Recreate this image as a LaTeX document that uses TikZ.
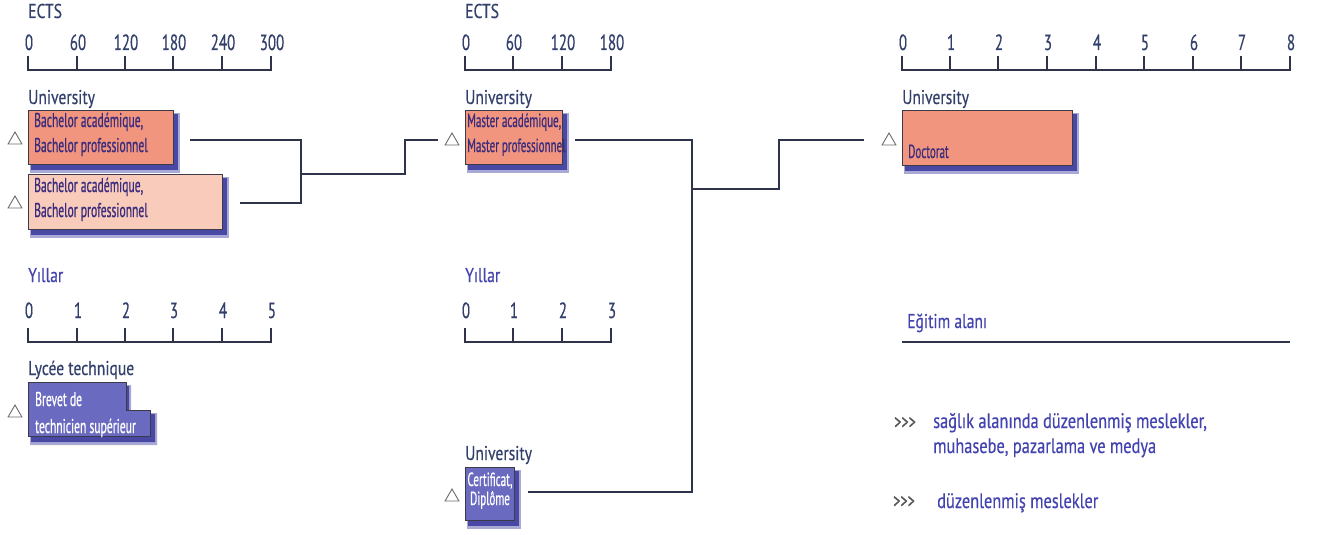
\documentclass[tikz,border=0pt]{standalone}
\usepackage{fontspec}
\setmainfont{PT Sans}[FakeStretch=0.78,FakeBold=0.35]
\newfontfamily\numfont{PT Sans}[FakeStretch=0.68,FakeBold=0.35]
\newfontfamily\boxfont{PT Sans}[FakeStretch=0.58,FakeBold=0.6]
\usetikzlibrary{shapes.geometric}
\definecolor{navy}{HTML}{33406C}
\definecolor{bluetxt}{HTML}{4343B0}
\definecolor{boxtxt}{HTML}{3A2C7C}
\definecolor{salmon}{HTML}{F2957F}
\definecolor{peach}{HTML}{F9CBBB}
\definecolor{violet}{HTML}{6A6AC0}
\definecolor{shadowblue}{HTML}{2A2A96}
\definecolor{linec}{HTML}{30344A}
\definecolor{edgec}{HTML}{3A3A48}
\tikzset{
  x=1pt, y=-1pt,
  lbl/.style={inner sep=0, anchor=base west, text=navy, font=\fontsize{20}{22}\selectfont},
  blbl/.style={inner sep=0, anchor=base west, text=bluetxt, font=\fontsize{20}{22}\selectfont},
  num/.style={inner sep=0, anchor=base, text=navy, font=\numfont\fontsize{22}{22}\selectfont},
  axisline/.style={draw=linec, line width=1.3pt},
  conn/.style={draw=linec, line width=1.4pt},
  tri/.style={regular polygon, regular polygon sides=3, draw=gray!85!black, line width=0.9pt, minimum size=16pt, inner sep=0},
  boxbase/.style={draw=edgec, line width=1pt, anchor=north west, inner sep=0},
  boxtext/.style={inner sep=0, anchor=base west, align=left, text=boxtxt, font=\boxfont\fontsize{20}{25}\selectfont},
  shad/.style={fill=shadowblue, opacity=0.4},
  arrs/.style={inner sep=0, anchor=base west, text=gray!65!black, font=\numfont\fontsize{21}{20}\selectfont},
}
\newcommand{\shadowbox}[4]{%
  \fill[shad] (#1+2,#2+3) rectangle (#3+7,#4+9);
  \fill[shadowblue, opacity=0.75] (#1+3,#2+4) rectangle (#3+5,#4+6);
}
\begin{document}
\begin{tikzpicture}
\useasboundingbox (0,0) rectangle (1323,535);
\fill[white] (0,0) rectangle (1323,535);

% ---------- left ECTS scale ----------
\node[lbl] (ects1) at (28,18) {ECTS};
\draw[axisline] (28,56) -- (28,70) -- (271,70) -- (271,56);
\foreach \x/\t in {28/0,77/60,125/120,173/180,222/240,271/300}{
  \draw[axisline] (\x,56) -- (\x,70);
  \node[num] at (\x+1,50) {\t};
}
\node[lbl] (uni1) at (28,104) {University};

% boxes
\shadowbox{28}{110}{173}{164}
\node[boxbase, fill=salmon, minimum width=145pt, minimum height=54pt] (b1) at (28,110) {};
\node[boxtext] (b1t) at (34,152) {Bachelor académique,\\Bachelor professionnel};
\shadowbox{28}{174}{222}{229}
\node[boxbase, fill=peach, minimum width=194pt, minimum height=55pt] (b2) at (28,174) {};
\node[boxtext] (b2t) at (34,217) {Bachelor académique,\\Bachelor professionnel};
\node[tri] (t1) at (15,140) {};
\node[tri] (t2) at (15,204) {};

% left Yillar scale
\node[blbl] (yil1) at (28,282) {Yıllar};
\draw[axisline] (28,328) -- (28,342) -- (271,342) -- (271,328);
\foreach \x/\t in {28/0,77/1,125/2,173/3,222/4,271/5}{
  \draw[axisline] (\x,328) -- (\x,342);
  \node[num] at (\x+1,318) {\t};
}
\node[lbl] (lyc) at (28,375) {Lycée technique};
\fill[shad] (30,385) -- (131,385) -- (131,413) -- (157,413) -- (157,445) -- (30,445) -- cycle;
\fill[shadowblue, opacity=0.75] (31,386) -- (129,386) -- (129,414) -- (155,414) -- (155,442) -- (31,442) -- cycle;
\draw[draw=edgec, line width=1pt, fill=violet] (28,382) -- (126,382) -- (126,410) -- (150,410) -- (150,436) -- (28,436) -- cycle;
\node[boxtext, text=white, font=\boxfont\fontsize{20}{27}\selectfont] (b3) at (35,433) {Brevet de\\technicien supérieur};
\node[tri] (t3) at (15,413) {};

% connectors left
\coordinate (b1out) at (190,140);
\coordinate (b2out) at (240,203);
\coordinate (j1) at (301,174);
\coordinate (k1) at (405,140);
\coordinate (m1in) at (438,140);
\draw[conn] (b1out) -- (b1out -| j1) -- (b2out -| j1) -- (b2out);
\draw[conn] (j1) -- (j1 -| k1) -- (k1) -- (m1in);

% ---------- middle ----------
\node[lbl] (ects2) at (465,18) {ECTS};
\draw[axisline] (465,56) -- (465,70) -- (611,70) -- (611,56);
\foreach \x/\t in {465/0,513/60,562/120,611/180}{
  \draw[axisline] (\x,56) -- (\x,70);
  \node[num] at (\x+1,50) {\t};
}
\node[lbl] (uni2) at (465,104) {University};
\shadowbox{465}{110}{562}{164}
\node[boxbase, fill=salmon, minimum width=97pt, minimum height=54pt] (b4) at (465,110) {};
\node[boxtext, font=\boxfont\fontsize{19}{25}\selectfont] (b4t) at (467,152) {Master académique,\\Master professionnel};
\node[tri] (t4) at (452,141) {};

\node[blbl] (yil2) at (465,282) {Yıllar};
\draw[axisline] (465,328) -- (465,342) -- (611,342) -- (611,328);
\foreach \x/\t in {465/0,513/1,562/2,611/3}{
  \draw[axisline] (\x,328) -- (\x,342);
  \node[num] at (\x+1,318) {\t};
}
\node[lbl] (uni3) at (465,460) {University};
\shadowbox{465}{467}{514}{520}
\node[boxbase, fill=violet, minimum width=49pt, minimum height=53pt] (b5) at (465,467) {};
\node[boxtext, align=center, anchor=base, text=white, font=\boxfont\fontsize{19}{19}\selectfont] (b5t) at (490,505) {Certificat,\\Diplôme};
\node[tri] (t5) at (452,497) {};

% connectors middle
\coordinate (b4out) at (575,140);
\coordinate (b5out) at (528,492);
\coordinate (j2) at (692,189);
\coordinate (k2) at (779,140);
\coordinate (d1in) at (864,140);
\draw[conn] (b4out) -- (b4out -| j2) -- (b5out -| j2) -- (b5out);
\draw[conn] (j2) -- (j2 -| k2) -- (k2) -- (d1in);

% ---------- right ----------
\draw[axisline] (902,56) -- (902,70) -- (1290,70) -- (1290,56);
\foreach \x/\t in {902/0,950/1,998/2,1047/3,1096/4,1144/5,1193/6,1241/7,1290/8}{
  \draw[axisline] (\x,56) -- (\x,70);
  \node[num] at (\x+1,50) {\t};
}
\node[lbl] (uni4) at (902,104) {University};
\shadowbox{902}{110}{1072}{165}
\node[boxbase, fill=salmon, minimum width=170pt, minimum height=55pt] (b6) at (902,110) {};
\node[boxtext, font=\boxfont\fontsize{19}{20}\selectfont] (doc) at (908,158) {Doctorat};
\node[tri] (t6) at (889,141) {};

\node[blbl] (egit) at (907,328) {Eğitim alanı};
\draw[axisline] (902,342) -- (1290,342);

\node[arrs] (ar1) at (894,429) {{>}{>}{>}};
\node[blbl, align=left, font=\fontsize{21}{25}\selectfont] (txt1) at (933,453) {sağlık alanında düzenlenmiş meslekler,\\muhasebe, pazarlama ve medya};
\node[arrs] (ar2) at (893,508) {{>}{>}{>}};
\node[blbl, font=\fontsize{21}{25}\selectfont] (txt2) at (937,508) {düzenlenmiş meslekler};
\end{tikzpicture}
\end{document}
